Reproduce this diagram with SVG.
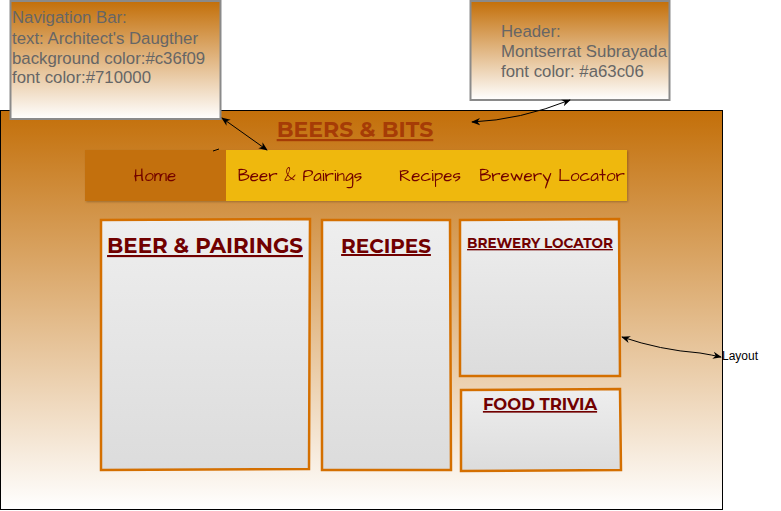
<svg xmlns="http://www.w3.org/2000/svg" width="781" height="511" viewBox="0 0 781 511">
<defs>
<linearGradient id="gOrange" x1="0" y1="0" x2="0" y2="1">
<stop offset="0" stop-color="#c36f09"/>
<stop offset="1" stop-color="#ffffff"/>
</linearGradient>
<linearGradient id="gPanel" x1="0" y1="0" x2="0" y2="1">
<stop offset="0" stop-color="#eeeeee"/>
<stop offset="1" stop-color="#dcdcdc"/>
</linearGradient>
<marker id="arr" viewBox="0 0 10 10" refX="9" refY="5" markerWidth="9" markerHeight="9" orient="auto-start-reverse" markerUnits="userSpaceOnUse">
<path d="M0,1 L10,5 L0,9 L3,5 Z" fill="#000"/>
</marker>
<filter id="sh" x="-5%" y="-5%" width="110%" height="110%">
<feDropShadow dx="1" dy="1" stdDeviation="1" flood-color="#000" flood-opacity="0.25"/>
</filter>
</defs>
<style>
.note{fill:url(#gOrange);stroke:#8a8a8a;stroke-width:2}
.noteText{font-family:"Liberation Sans",Arial,sans-serif;font-size:16.8px;fill:#666666}
.panel{fill:url(#gPanel);stroke:#d46f00;stroke-width:2.5}
.ptitle{font-family:Montserrat,"Liberation Sans",Arial,sans-serif;font-weight:bold;fill:#710000;text-decoration:underline;text-anchor:middle}
.nav{font-family:"Architects Daughter","Comic Neue","DejaVu Sans",sans-serif;font-size:17px;fill:#710000;text-anchor:middle}
.conn{fill:none;stroke:#000;stroke-width:1}
</style>
<g id="layout">
<rect x="0.5" y="110.5" width="722" height="399" fill="url(#gOrange)" stroke="#000" stroke-width="1"/>
</g>
<g id="header-title">
<text x="355" y="137" class="ptitle" style="font-size:22px;fill:#a63c06">BEERS &amp; BITS</text>
</g>
<g id="navbar" filter="url(#sh)">
<rect x="85" y="150" width="542" height="51" fill="#efb80c"/>
<rect x="85" y="150" width="141" height="51" fill="#c36f09"/>
<text x="155" y="181" class="nav">Home</text>
<text x="300" y="181" class="nav">Beer &amp; Pairings</text>
<text x="430" y="181" class="nav">Recipes</text>
<text x="552" y="181" class="nav">Brewery Locator</text>
</g>
<g id="panel-beer">
<path class="panel" d="M101,220 L310,219 L309,469 L101,470 Z"/>
<text x="205" y="253" class="ptitle" style="font-size:21.3px">BEER &amp; PAIRINGS</text>
</g>
<g id="panel-recipes">
<path class="panel" d="M322,220 L450,220 L451,470 L322,470 Z"/>
<text x="386" y="253" class="ptitle" style="font-size:20px">RECIPES</text>
</g>
<g id="panel-brewery">
<path class="panel" d="M460,220 L619,219 L620,376 L460,376 Z"/>
<text x="540" y="248" class="ptitle" style="font-size:13.6px">BREWERY LOCATOR</text>
</g>
<g id="panel-trivia">
<path class="panel" d="M461,390 L620,389 L621,470 L461,471 Z"/>
<text x="540" y="410" class="ptitle" style="font-size:16.5px">FOOD TRIVIA</text>
</g>
<g id="note-nav">
<rect x="10.5" y="1" width="210" height="118" class="note"/>
<text class="noteText"><tspan x="12" y="23">Navigation Bar:</tspan><tspan x="12" y="44">text: Architect's Daugther</tspan><tspan x="12" y="64">background color:#c36f09</tspan><tspan x="12" y="83">font color:#710000</tspan></text>
</g>
<g id="note-header">
<rect x="470.5" y="1" width="199" height="99" class="note"/>
<text class="noteText"><tspan x="501" y="37">Header:</tspan><tspan x="501" y="57">Montserrat Subrayada</tspan><tspan x="501" y="77">font color: #a63c06</tspan></text>
</g>
<g id="label-layout">
<text x="722" y="360" style="font-family:'Liberation Sans',Arial,sans-serif;font-size:12px;fill:#000">Layout</text>
</g>
<g id="connectors">
<path class="conn" d="M222,118 L267,150" marker-start="url(#arr)" marker-end="url(#arr)"/>
<path class="conn" d="M213,151 L219,149"/>
<path class="conn" d="M570,100 Q520,120 472,122" marker-start="url(#arr)" marker-end="url(#arr)"/>
<path class="conn" d="M622,337 Q660,350 700,353 Q712,355 721,357" marker-start="url(#arr)" marker-end="url(#arr)"/>
</g>
</svg>
